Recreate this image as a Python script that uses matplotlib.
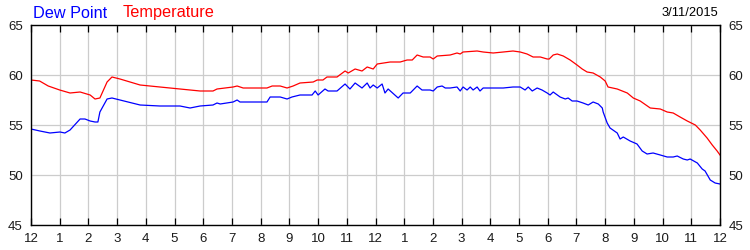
import matplotlib
matplotlib.use("Agg")
import matplotlib.pyplot as plt

plt.rcParams['font.family'] = ['Liberation Sans', 'DejaVu Sans']

temp_hours = [0, 0.3, 0.6, 1.0, 1.36, 1.71, 2.06, 2.23, 2.40, 2.65, 2.82, 3.10, 3.8, 4.49, 5.19, 5.89,
              6.34, 6.48, 7.04, 7.18, 7.39, 8.22, 8.40, 8.68, 8.92, 9.13, 9.37, 9.83, 9.97, 10.17,
              10.31, 10.66, 10.94, 11.05, 11.29, 11.53, 11.71, 11.92, 12.06, 12.51, 12.86, 13.10,
              13.28, 13.45, 13.66, 13.90, 14.01, 14.15, 14.60, 14.84, 14.95, 15.05, 15.54, 15.75,
              16.10, 16.45, 16.79, 17.04, 17.28, 17.49, 17.74, 17.98, 18.05, 18.19, 18.33, 18.54,
              18.78, 19.02, 19.20, 19.37, 19.58, 19.83, 20.0, 20.10, 20.42, 20.77, 20.98, 21.22,
              21.57, 21.92, 22.16, 22.37, 22.61, 22.86, 23.14, 23.31, 23.55, 23.73, 23.90, 24.0]
temperature = [59.5, 59.4, 58.9, 58.5, 58.2, 58.3, 58.0, 57.6, 57.7, 59.3, 59.8, 59.6, 59.0, 58.8, 58.6, 58.4,
               58.4, 58.6, 58.8, 58.9, 58.7, 58.7, 58.9, 58.9, 58.7, 58.9, 59.2, 59.3, 59.5, 59.5,
               59.8, 59.8, 60.4, 60.2, 60.6, 60.4, 60.8, 60.6, 61.1, 61.3, 61.3, 61.5,
               61.5, 62.0, 61.8, 61.8, 61.6, 61.9, 62.0, 62.2, 62.1, 62.3, 62.4, 62.3,
               62.2, 62.3, 62.4, 62.3, 62.1, 61.8, 61.8, 61.6, 61.6, 62.0, 62.1, 61.9,
               61.5, 61.0, 60.6, 60.3, 60.2, 59.8, 59.4, 58.8, 58.6, 58.2, 57.7, 57.4,
               56.7, 56.6, 56.3, 56.2, 55.8, 55.4, 55.0, 54.5, 53.7, 53.0, 52.4, 52.0]

dew_hours = [0, 0.31, 0.66, 1.01, 1.18, 1.36, 1.71, 1.88, 2.06, 2.23, 2.33, 2.40, 2.65, 2.82, 3.10, 3.80,
             4.49, 5.19, 5.54, 5.89, 6.34, 6.48, 6.59, 7.04, 7.18, 7.28, 8.22, 8.33, 8.68, 8.92, 9.09,
             9.37, 9.79, 9.90, 10.0, 10.24, 10.35, 10.66, 10.94, 11.11, 11.29, 11.53, 11.71, 11.81,
             11.92, 12.06, 12.23, 12.33, 12.44, 12.79, 12.96, 13.21, 13.45, 13.62, 13.90, 14.01,
             14.15, 14.32, 14.43, 14.60, 14.84, 14.95, 15.05, 15.19, 15.30, 15.40, 15.54, 15.64,
             15.75, 16.10, 16.45, 16.79, 17.04, 17.21, 17.32, 17.46, 17.63, 17.80, 17.98, 18.08,
             18.19, 18.43, 18.61, 18.71, 18.85, 19.02, 19.23, 19.41, 19.58, 19.76, 19.90, 19.93,
             20.07, 20.17, 20.42, 20.52, 20.63, 20.87, 21.11, 21.29, 21.46, 21.67, 21.92, 22.16,
             22.37, 22.51, 22.72, 22.86, 22.96, 23.21, 23.38, 23.48, 23.66, 23.83, 24.0]
dew_point = [54.6, 54.4, 54.2, 54.3, 54.2, 54.5, 55.6, 55.6, 55.4, 55.3, 55.3, 56.3, 57.6, 57.7, 57.5, 57.0,
             56.9, 56.9, 56.7, 56.9, 57.0, 57.2, 57.1, 57.3, 57.5, 57.3, 57.3, 57.8, 57.8, 57.6, 57.8,
             58.0, 58.0, 58.4, 58.0, 58.6, 58.4, 58.4, 59.1, 58.6, 59.2, 58.7, 59.2, 58.7,
             59.0, 58.7, 59.1, 58.2, 58.6, 57.7, 58.2, 58.2, 58.9, 58.5, 58.5, 58.4,
             58.8, 58.9, 58.7, 58.7, 58.8, 58.4, 58.8, 58.5, 58.8, 58.5, 58.8, 58.4,
             58.7, 58.7, 58.7, 58.8, 58.8, 58.5, 58.8, 58.4, 58.7, 58.5, 58.2, 58.0,
             58.3, 57.8, 57.6, 57.7, 57.4, 57.4, 57.2, 57.0, 57.3, 57.1, 56.7, 56.3,
             55.2, 54.7, 54.2, 53.6, 53.8, 53.4, 53.1, 52.4, 52.1, 52.2, 52.0, 51.8,
             51.8, 51.9, 51.6, 51.5, 51.6, 51.2, 50.6, 50.4, 49.5, 49.2, 49.1]

x_ticks = list(range(0, 25))
x_labels = ['12', '1', '2', '3', '4', '5', '6', '7', '8', '9', '10', '11',
            '12', '1', '2', '3', '4', '5', '6', '7', '8', '9', '10', '11', '12']
y_ticks = [45, 50, 55, 60, 65]
date_text = '3/11/2015'

fig = plt.figure(figsize=(7.5, 2.5), dpi=100)
ax = fig.add_axes([31 / 750, 25 / 250, 689 / 750, 200 / 250])

ax.plot(temp_hours, temperature, color='#ff0000', lw=0.9)
ax.plot(dew_hours, dew_point, color='#0000ff', lw=0.9)

ax.set_xlim(0, 24)
ax.set_ylim(45, 65)
ax.set_xticks(x_ticks)
ax.set_xticklabels(x_labels)
ax.set_yticks(y_ticks)
ax.grid(True, color='#cccccc', lw=0.9)
ax.set_axisbelow(True)

for s in ax.spines.values():
    s.set_linewidth(1.0)
    s.set_color('black')

ax.tick_params(axis='x', direction='in', length=5, width=0.9, top=True, bottom=True,
               labelsize=9.5, pad=6, colors='black')
ax.tick_params(axis='y', direction='in', length=0, left=True, right=True,
               labelleft=True, labelright=True, labelsize=9.5, pad=6, colors='black')
ax.tick_params(axis='x', labelcolor='#1a1a1a')
ax.tick_params(axis='y', labelcolor='#1a1a1a')

fig.text(33 / 750, 1 - 13 / 250, 'Dew Point', color='#0000ff', fontsize=11.7, va='center', ha='left')
fig.text(123 / 750, 1 - 13 / 250, 'Temperature', color='#ff0000', fontsize=11.7, va='center', ha='left')
fig.text(718 / 750, 1 - 13 / 250, date_text, color='black', fontsize=9.3, va='center', ha='right')

fig.savefig('out.png', dpi=100)
